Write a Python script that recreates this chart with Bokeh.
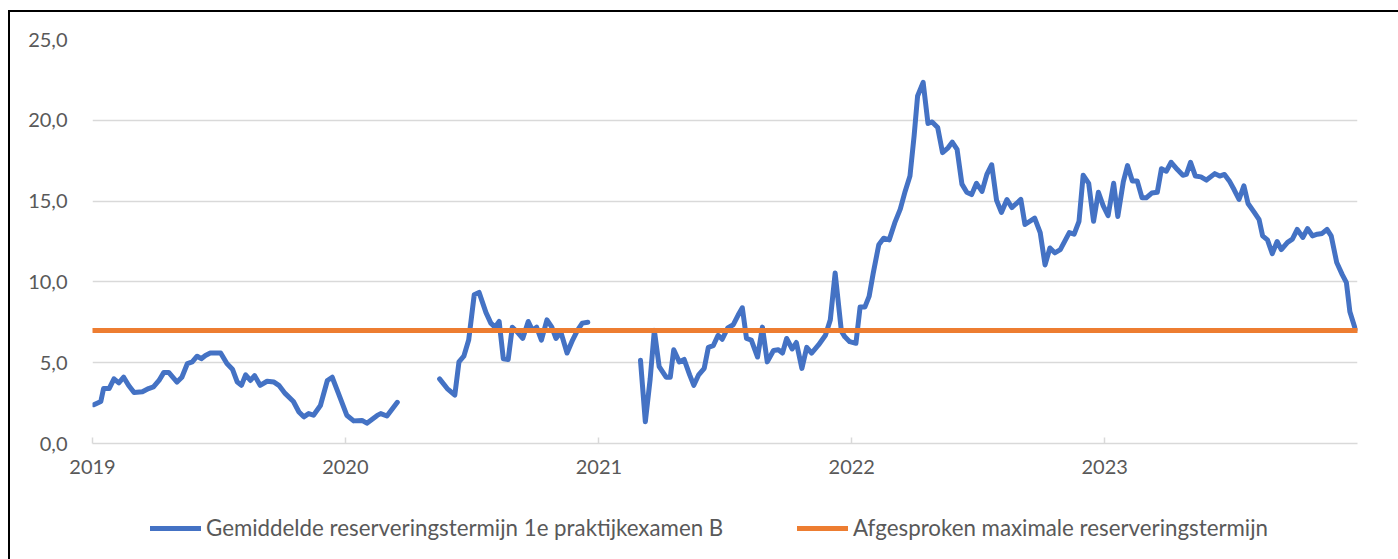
import math
import pandas as pd
from bokeh.plotting import figure
from bokeh.layouts import column
from bokeh.models import (ColumnDataSource, FixedTicker, Legend, LegendItem, Range1d,
                          DatetimeTickFormatter)
from bokeh.embed import file_html
from bokeh.resources import INLINE

# ---------------- data ----------------
series_names = ["Gemiddelde reserveringstermijn 1e praktijkexamen B",
                "Afgesproken maximale reserveringstermijn"]

# segment 1: Jan 2019 - Mar 2020
dates_a = ["2019-01-03", "2019-01-13", "2019-01-17", "2019-01-25", "2019-02-01", "2019-02-08",
           "2019-02-15", "2019-02-22", "2019-03-02", "2019-03-14", "2019-03-23", "2019-03-30",
           "2019-04-07", "2019-04-14", "2019-04-21", "2019-05-03", "2019-05-10", "2019-05-18",
           "2019-05-25", "2019-06-01", "2019-06-07", "2019-06-13", "2019-06-20", "2019-07-05",
           "2019-07-14", "2019-07-22", "2019-07-29", "2019-08-04", "2019-08-10", "2019-08-17",
           "2019-08-23", "2019-08-31", "2019-09-10", "2019-09-20", "2019-09-27", "2019-10-06",
           "2019-10-18", "2019-10-26", "2019-11-02", "2019-11-09", "2019-11-16", "2019-11-26",
           "2019-12-06", "2019-12-13", "2019-12-22", "2020-01-03", "2020-01-13", "2020-01-25",
           "2020-02-01", "2020-02-16", "2020-02-21", "2020-03-01", "2020-03-16"]
values_a = [2.4, 2.6, 3.4, 3.4, 4.0, 3.75, 4.1, 3.6, 3.15, 3.2, 3.4, 3.5,
            3.9, 4.4, 4.4, 3.8, 4.1, 4.95, 5.05, 5.4, 5.25, 5.45, 5.6, 5.6,
            4.95, 4.6, 3.8, 3.6, 4.25, 3.9, 4.2, 3.6, 3.85, 3.8, 3.6, 3.1,
            2.6, 1.95, 1.65, 1.85, 1.75, 2.35, 3.9, 4.1, 3.1, 1.75, 1.4, 1.43,
            1.26, 1.74, 1.85, 1.7, 2.55]

# segment 2: May 2020 - Dec 2020
dates_b = ["2020-05-16", "2020-05-27", "2020-06-07", "2020-06-13", "2020-06-20", "2020-06-27",
           "2020-07-05", "2020-07-12", "2020-07-22", "2020-07-29", "2020-08-04", "2020-08-10",
           "2020-08-16", "2020-08-23", "2020-08-29", "2020-09-05", "2020-09-13", "2020-09-21",
           "2020-09-27", "2020-10-03", "2020-10-10", "2020-10-18", "2020-10-25", "2020-10-31",
           "2020-11-07", "2020-11-16", "2020-11-24", "2020-12-01", "2020-12-08", "2020-12-16"]
values_b = [4.0, 3.4, 3.0, 5.05, 5.4, 6.4, 9.2, 9.35, 8.1, 7.45, 7.2, 7.55,
            5.25, 5.2, 7.2, 6.9, 6.5, 7.55, 7.0, 7.2, 6.4, 7.65, 7.2, 6.5,
            6.9, 5.6, 6.4, 7.0, 7.45, 7.5]

# segment 3: Mar 2021 - Dec 2023
dates_c = ["2021-03-02", "2021-03-09", "2021-03-16", "2021-03-22", "2021-03-29", "2021-04-08",
           "2021-04-14", "2021-04-19", "2021-04-27", "2021-05-04", "2021-05-12", "2021-05-18",
           "2021-05-25", "2021-06-02", "2021-06-08", "2021-06-15", "2021-06-22", "2021-06-28",
           "2021-07-06", "2021-07-14", "2021-07-21", "2021-07-27", "2021-08-02", "2021-08-09",
           "2021-08-18", "2021-08-25", "2021-09-01", "2021-09-10", "2021-09-17", "2021-09-23",
           "2021-09-29", "2021-10-07", "2021-10-13", "2021-10-21", "2021-10-28", "2021-11-04",
           "2021-11-14", "2021-11-24", "2021-12-01", "2021-12-08", "2021-12-17", "2021-12-22",
           "2021-12-29", "2022-01-07", "2022-01-13", "2022-01-20", "2022-01-26", "2022-02-01",
           "2022-02-09", "2022-02-16", "2022-02-24", "2022-03-04", "2022-03-12", "2022-03-19",
           "2022-03-26", "2022-04-01", "2022-04-06", "2022-04-14", "2022-04-21", "2022-04-27",
           "2022-05-05", "2022-05-12", "2022-05-20", "2022-05-26", "2022-06-02", "2022-06-09",
           "2022-06-16", "2022-06-23", "2022-06-30", "2022-07-08", "2022-07-15", "2022-07-22",
           "2022-07-29", "2022-08-05", "2022-08-13", "2022-08-20", "2022-09-02", "2022-09-08",
           "2022-09-22", "2022-09-30", "2022-10-07", "2022-10-14", "2022-10-21", "2022-10-29",
           "2022-11-11", "2022-11-18", "2022-11-25", "2022-12-01", "2022-12-09", "2022-12-16",
           "2022-12-23", "2022-12-30", "2023-01-06", "2023-01-14", "2023-01-20", "2023-01-28",
           "2023-02-03", "2023-02-10", "2023-02-17", "2023-02-24", "2023-03-02", "2023-03-10",
           "2023-03-18", "2023-03-24", "2023-03-31", "2023-04-07", "2023-04-16", "2023-04-24",
           "2023-04-29", "2023-05-05", "2023-05-12", "2023-05-20", "2023-05-28", "2023-06-09",
           "2023-06-16", "2023-06-23", "2023-06-30", "2023-07-07", "2023-07-14", "2023-07-21",
           "2023-07-27", "2023-08-05", "2023-08-12", "2023-08-17", "2023-08-24", "2023-08-31",
           "2023-09-07", "2023-09-13", "2023-09-22", "2023-09-29", "2023-10-06", "2023-10-14",
           "2023-10-21", "2023-10-28", "2023-11-04", "2023-11-11", "2023-11-18", "2023-11-24",
           "2023-12-02", "2023-12-10", "2023-12-16", "2023-12-21", "2023-12-29"]
values_c = [5.15, 1.35, 4.0, 7.0, 4.75, 4.1, 4.1, 5.8, 5.05, 5.2, 4.25, 3.6,
            4.25, 4.65, 5.95, 6.05, 6.7, 6.45, 7.15, 7.35, 7.95, 8.4, 6.5, 6.4,
            5.35, 7.2, 5.05, 5.75, 5.8, 5.6, 6.5, 5.85, 6.25, 4.65, 5.95, 5.6,
            6.1, 6.7, 7.65, 10.55, 6.95, 6.6, 6.3, 6.2, 8.45, 8.45, 9.1, 10.55,
            12.3, 12.7, 12.6, 13.65, 14.5, 15.6, 16.55, 19.05, 21.5, 22.35, 19.8, 19.9,
            19.55, 18.0, 18.3, 18.65, 18.2, 16.05, 15.55, 15.4, 16.1, 15.6, 16.65, 17.25,
            15.05, 14.3, 15.1, 14.6, 15.1, 13.55, 13.95, 13.05, 11.05, 12.1, 11.8, 12.0,
            13.05, 12.95, 13.75, 16.6, 16.1, 13.75, 15.55, 14.7, 14.1, 16.1, 14.05, 16.2,
            17.2, 16.25, 16.25, 15.2, 15.2, 15.5, 15.55, 17.0, 16.85, 17.4, 16.95, 16.6,
            16.65, 17.4, 16.55, 16.5, 16.3, 16.7, 16.55, 16.65, 16.25, 15.7, 15.1, 15.95,
            14.85, 14.3, 13.85, 12.85, 12.6, 11.75, 12.5, 12.0, 12.45, 12.65, 13.25, 12.75,
            13.3, 12.85, 12.95, 13.0, 13.25, 12.85, 11.2, 10.45, 9.95, 8.15, 7.05]

target_dates = ["2019-01-01", "2023-12-31"]
target_values = [7.0, 7.0]

x_start, x_end = "2019-01-01", "2024-01-01"
year_ticks = ["2019-01-01", "2020-01-01", "2021-01-01", "2022-01-01", "2023-01-01"]
y_ticks = [0, 5, 10, 15, 20, 25]
y_tick_labels = ["0,0", "5,0", "10,0", "15,0", "20,0", "25,0"]

# ---------------- build ----------------
FONT = "Lato"
TXT = "#595959"
BLUE = "#4472C4"
ORANGE = "#ED7D31"
W = 1388

xs, ys = [], []
for d, v in ((dates_a, values_a), (dates_b, values_b), (dates_c, values_c)):
    if xs:
        xs.append(pd.Timestamp(d[0]))
        ys.append(float("nan"))
    xs.extend(pd.to_datetime(d))
    ys.extend(v)
src = ColumnDataSource(dict(x=xs, y=ys))
tsrc = ColumnDataSource(dict(x=pd.to_datetime(target_dates), y=target_values))

p = figure(width=W, height=471, x_axis_type="datetime", output_backend="svg",
           toolbar_location=None,
           x_range=Range1d(pd.Timestamp(x_start), pd.Timestamp(x_end)),
           y_range=Range1d(0, 25),
           min_border_left=82, min_border_right=41, min_border_top=27, min_border_bottom=40)
p.outline_line_color = None
p.background_fill_color = "white"
p.border_fill_color = "white"

line_style = dict(line_width=5, line_join="round", line_cap="round")
r1 = p.line("x", "y", source=src, line_color=BLUE, **line_style)
r2 = p.line("x", "y", source=tsrc, line_color=ORANGE, **line_style)

# grid
p.xgrid.grid_line_color = None
p.ygrid.grid_line_color = "#d9d9d9"
p.ygrid.grid_line_width = 1.5
p.ygrid.ticker = FixedTicker(ticks=y_ticks[1:])

# y axis
p.yaxis.ticker = FixedTicker(ticks=y_ticks)
p.yaxis.major_label_overrides = {t: l for t, l in zip(y_ticks, y_tick_labels)}
p.yaxis.axis_line_color = None
p.yaxis.major_tick_line_color = None
p.yaxis.minor_tick_line_color = None
p.yaxis.major_label_standoff = 19
p.yaxis.major_label_text_font = FONT
p.yaxis.major_label_text_font_size = "20px"
p.yaxis.major_label_text_color = TXT

# x axis
p.xaxis.ticker = FixedTicker(ticks=[pd.Timestamp(t).value // 10**6 for t in year_ticks])
p.xaxis.formatter = DatetimeTickFormatter(years="%Y", months="%Y", days="%Y", hours="%Y",
                                          minutes="%Y", seconds="%Y", milliseconds="%Y",
                                          microseconds="%Y")
p.xaxis.axis_line_color = "#d9d9d9"
p.xaxis.axis_line_width = 1.5
p.xaxis.major_tick_line_color = "#d9d9d9"
p.xaxis.major_tick_line_width = 1.5
p.xaxis.major_tick_in = 6
p.xaxis.major_tick_out = 0
p.xaxis.minor_tick_line_color = None
p.xaxis.major_label_standoff = 16
p.xaxis.major_label_text_font = FONT
p.xaxis.major_label_text_font_size = "20px"
p.xaxis.major_label_text_color = TXT

# legend strip below the chart (its frame is aligned with the chart's frame)
lg = figure(width=W, height=76, output_backend="svg", toolbar_location=None,
            x_range=Range1d(0, 1), y_range=Range1d(0, 1),
            x_axis_location=None, y_axis_location=None,
            min_border_left=82, min_border_right=41, min_border_top=0, min_border_bottom=0)
lg.outline_line_color = None
lg.grid.grid_line_color = None
lg.background_fill_color = "white"
lg.border_fill_color = "white"
nan = float("nan")
k1 = lg.line(x=[nan], y=[nan], line_color=BLUE, **line_style)
k2 = lg.line(x=[nan], y=[nan], line_color=ORANGE, **line_style)

legend_style = dict(orientation="horizontal", border_line_color=None,
                    background_fill_alpha=0, label_text_font=FONT,
                    label_text_font_size="22.3px", label_text_color=TXT,
                    glyph_width=51, glyph_height=20, label_standoff=5,
                    padding=0, margin=0)
leg1 = Legend(items=[LegendItem(label=series_names[0], renderers=[k1])],
              location=(58, 18), **legend_style)
leg2 = Legend(items=[LegendItem(label=series_names[1], renderers=[k2])],
              location=(705, 18), **legend_style)
lg.add_layout(leg1, "center")
lg.add_layout(leg2, "center")

layout = column(p, lg, spacing=0)
layout.styles = {"border-left": "2px solid black", "border-top": "2px solid black",
                 "margin-top": "10px", "margin-left": "8px"}

open("out.html", "w").write(file_html(layout, INLINE))
